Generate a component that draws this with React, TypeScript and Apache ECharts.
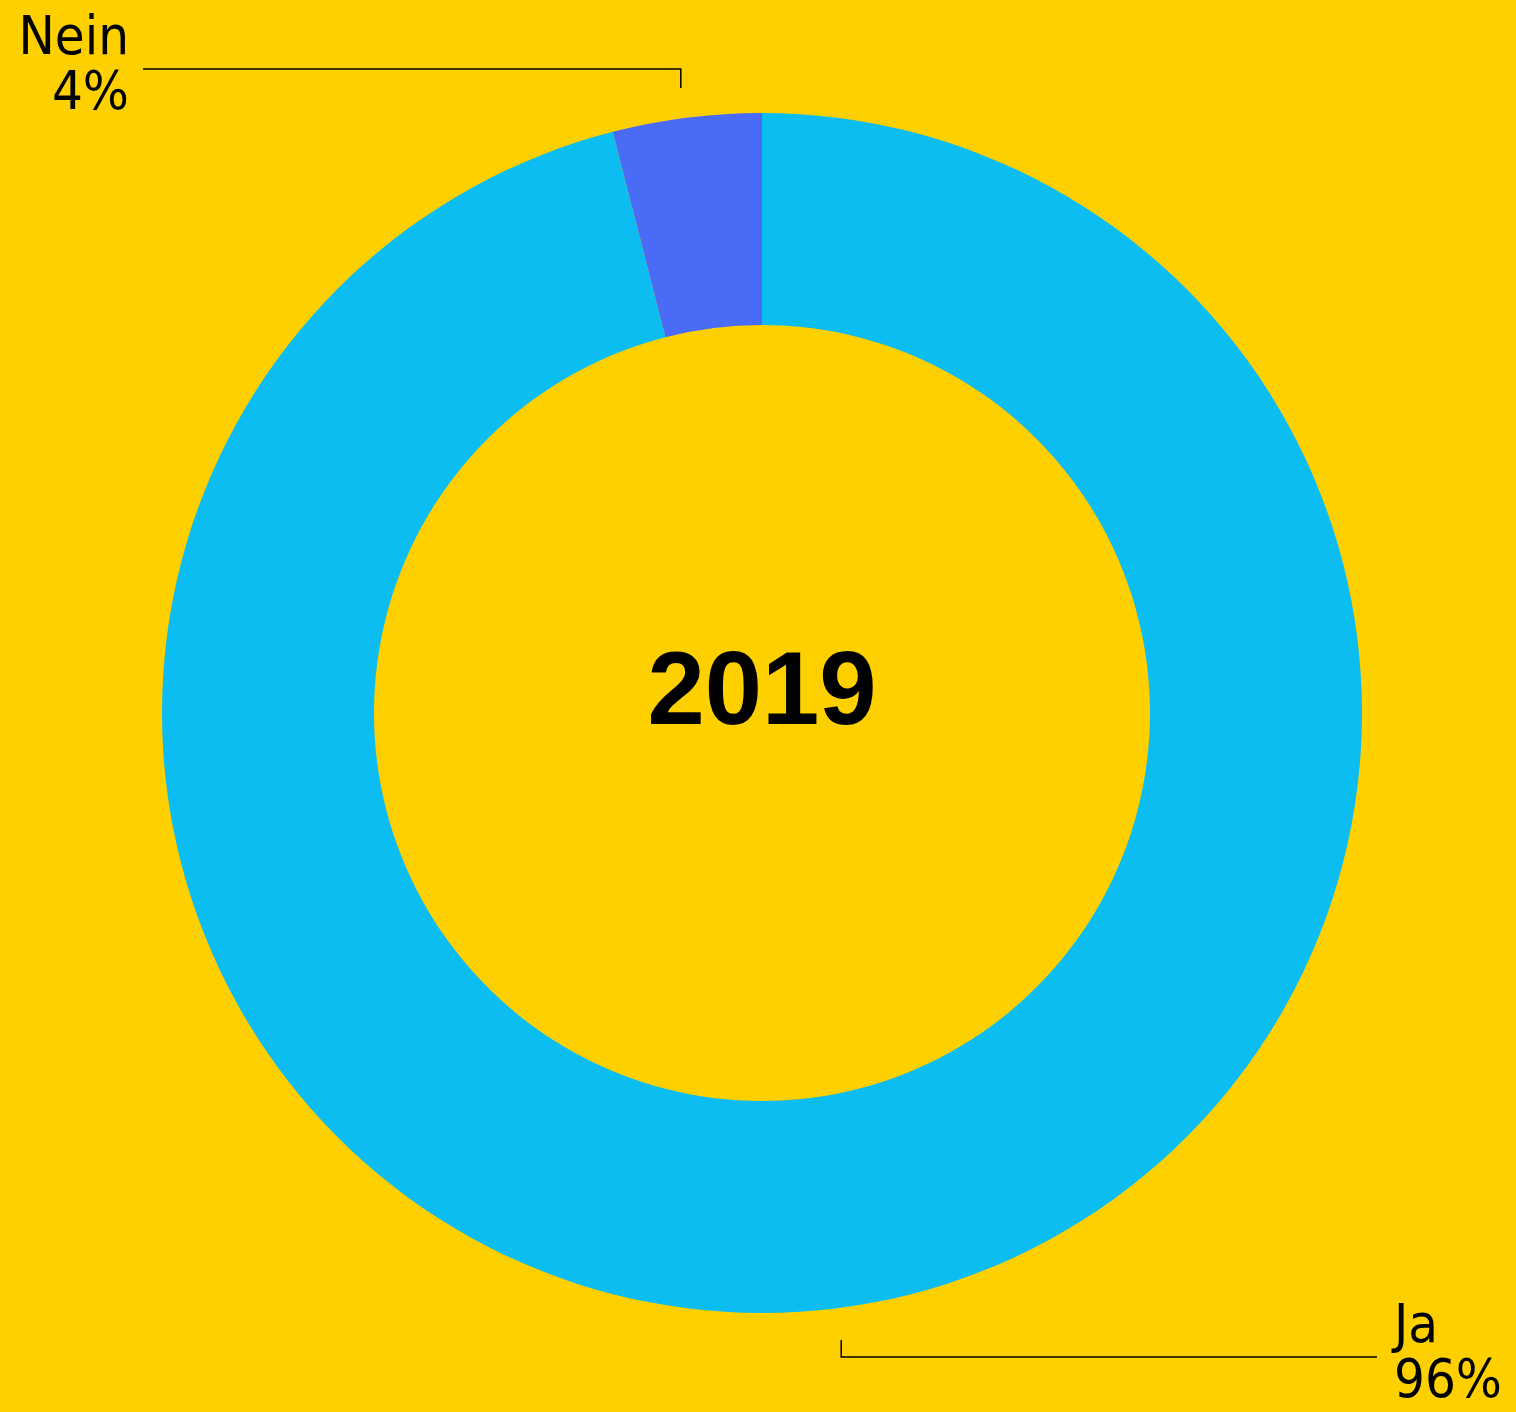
import React, { useEffect, useRef } from "react";
import * as echarts from "echarts";

const categories = ["Ja", "Nein"];
const values = [96, 4];
const sliceColors = ["#0BBDF0", "#4A6BF5"];
const centerTitle = "2019";

const W = 1516;
const H = 1412;
const CX = 762;
const CY = 713;
const R_OUT = 600;
const R_IN = 388;
const BG = "#FED000";

export default function App() {
  const ref = useRef<HTMLDivElement>(null);
  useEffect(() => {
    document.body.style.margin = "0";
    document.body.style.background = BG;
    const chart = echarts.init(ref.current!, null, { renderer: "svg" });
    const total = values.reduce((a, b) => a + b, 0);
    let cum = 0;
    const mids = values.map((v) => {
      const m = ((cum + v / 2) / total) * 2 * Math.PI;
      cum += v;
      return { x: CX + R_OUT * Math.sin(m), y: CY - R_OUT * Math.cos(m) };
    });
    const font = "'DejaVu Sans Condensed', 'Liberation Sans Narrow', sans-serif";
    const lineStyle = { stroke: "#000", lineWidth: 1.5 };
    const graphics: any[] = [];
    // Ja label (bottom right)
    const jaX = mids[0].x + 4;
    graphics.push({
      type: "polyline",
      shape: { points: [[jaX, 1340], [jaX, 1357], [1377, 1357]] },
      style: { ...lineStyle, fill: null },
    });
    graphics.push({
      type: "text", x: 1394, y: 1351,
      style: {
        text: categories[0] + "\n" + values[0] + "%",
        font: `54px ${font}`, lineHeight: 55, fill: "#000",
        textAlign: "left", textVerticalAlign: "middle",
      },
    });
    // Nein label (top left)
    const neX = mids[1].x - 6;
    graphics.push({
      type: "polyline",
      shape: { points: [[143, 69], [neX, 69], [neX, 88]] },
      style: { ...lineStyle, fill: null },
    });
    graphics.push({
      type: "text", x: 129, y: 63,
      style: {
        text: categories[1] + "\n" + values[1] + "%",
        font: `54px ${font}`, lineHeight: 55, fill: "#000",
        textAlign: "right", textVerticalAlign: "middle",
      },
    });
    graphics.push({
      type: "text", x: CX, y: 688,
      style: { text: centerTitle, font: `bold 103px 'Liberation Sans', Arial, sans-serif`, fill: "#000", textAlign: "center", textVerticalAlign: "middle" },
    });

    chart.setOption({
      animation: false,
      backgroundColor: BG,
      series: [
        {
          type: "pie",
          center: [CX, CY],
          radius: [R_IN, R_OUT],
          startAngle: 90,
          clockwise: true,
          label: { show: false },
          labelLine: { show: false },
          silent: true,
          itemStyle: { borderWidth: 0 },
          data: categories.map((c, i) => ({ name: c, value: values[i], itemStyle: { color: sliceColors[i] } })),
        },
      ],
      graphic: graphics,
    });
    return () => chart.dispose();
  }, []);
  return <div ref={ref} style={{ width: W, height: H }} />;
}
